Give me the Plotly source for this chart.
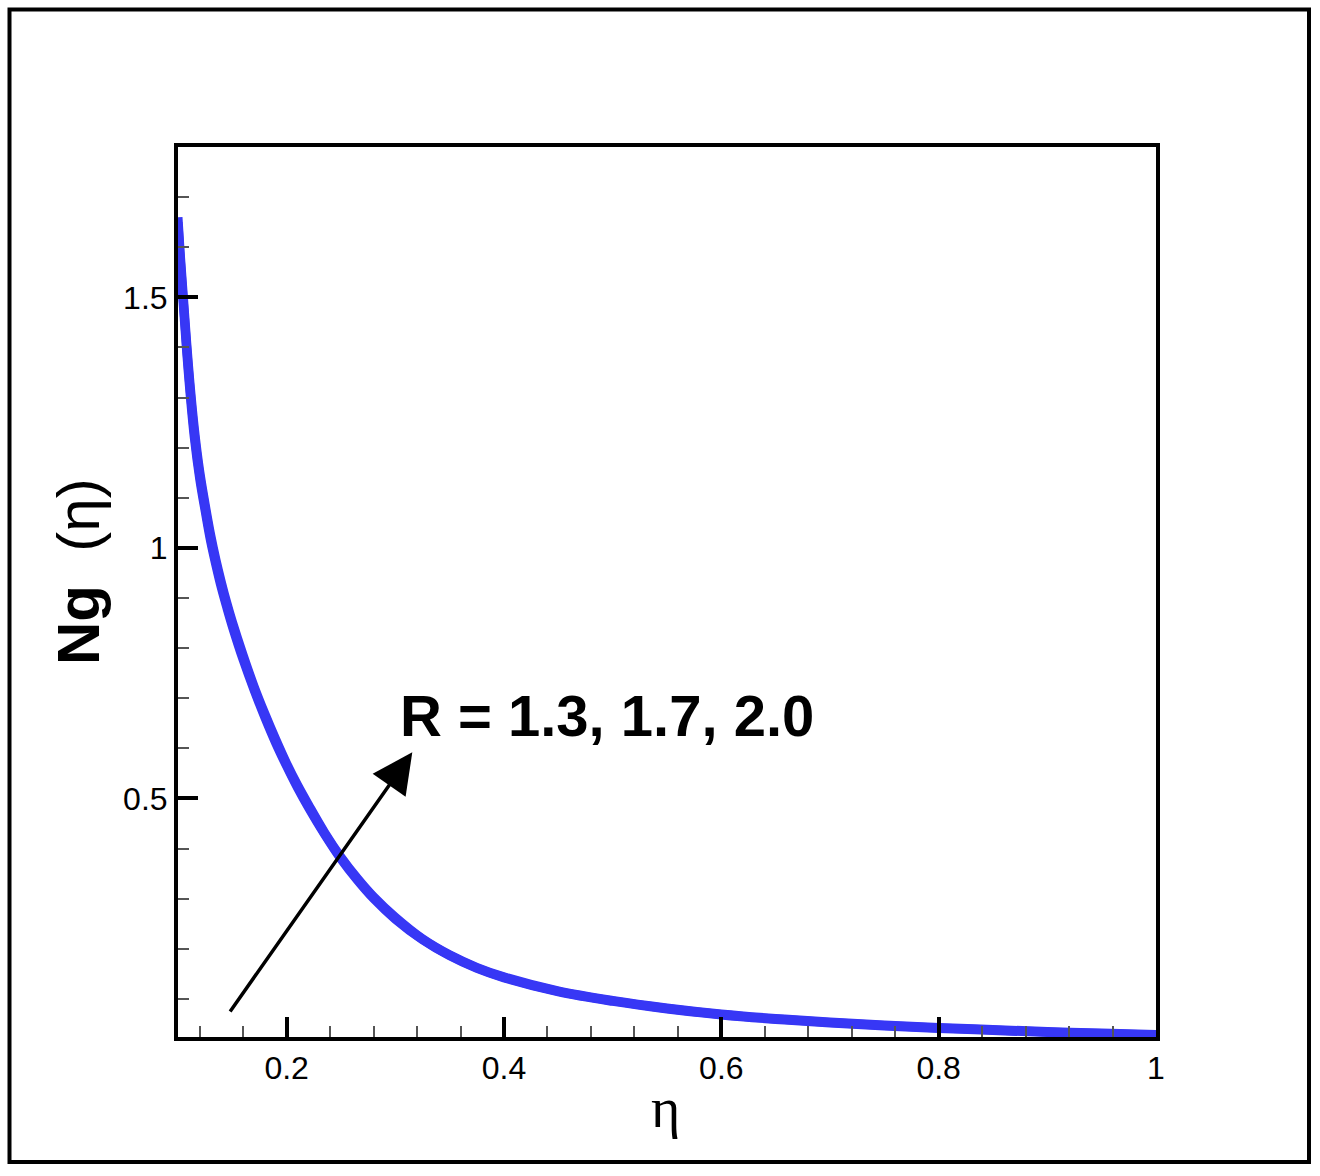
import plotly.graph_objects as go

# ---- data ----
eta = [0.1, 0.102, 0.105, 0.108, 0.111, 0.115, 0.12, 0.125, 0.13, 0.135, 0.14, 0.145,
       0.15, 0.16, 0.17, 0.18, 0.19, 0.2, 0.21, 0.22, 0.235, 0.25, 0.265, 0.28, 0.3,
       0.325, 0.35, 0.375, 0.4, 0.45, 0.5, 0.55, 0.6, 0.65, 0.7, 0.75, 0.8, 0.85,
       0.9, 0.95, 1.0]
ng_R17 = [1.65, 1.58, 1.49, 1.40, 1.32, 1.23, 1.145, 1.08, 1.02, 0.97, 0.925, 0.885,
          0.848, 0.781, 0.720, 0.665, 0.614, 0.567, 0.524, 0.485, 0.430, 0.381, 0.339, 0.302, 0.261,
          0.219, 0.187, 0.162, 0.143, 0.115, 0.096, 0.081, 0.069, 0.060, 0.053, 0.047, 0.042, 0.038,
          0.034, 0.031, 0.028]
ng_R13 = [1.64, 1.57, 1.48, 1.39, 1.31, 1.22, 1.137, 1.073, 1.013, 0.964, 0.919, 0.880,
          0.843, 0.776, 0.716, 0.661, 0.610, 0.564, 0.521, 0.482, 0.428, 0.379, 0.337, 0.300, 0.259,
          0.218, 0.186, 0.161, 0.142, 0.114, 0.095, 0.080, 0.068, 0.059, 0.052, 0.046, 0.041, 0.037,
          0.033, 0.030, 0.027]
ng_R20 = [1.66, 1.59, 1.50, 1.41, 1.33, 1.24, 1.153, 1.087, 1.027, 0.976, 0.931, 0.890,
          0.853, 0.786, 0.724, 0.669, 0.618, 0.570, 0.527, 0.488, 0.432, 0.383, 0.341, 0.304, 0.263,
          0.220, 0.188, 0.163, 0.144, 0.116, 0.097, 0.082, 0.070, 0.061, 0.054, 0.048, 0.043, 0.039,
          0.035, 0.032, 0.029]
series = [("R = 1.3", ng_R13), ("R = 1.7", ng_R17), ("R = 2.0", ng_R20)]

x_ticks = [0.2, 0.4, 0.6, 0.8, 1.0]
x_ticklabels = ["0.2", "0.4", "0.6", "0.8", "1"]
y_ticks = [0.5, 1.0, 1.5]
y_ticklabels = ["0.5", "1", "1.5"]

label_text = "<b>R = 1.3, 1.7, 2.0</b>"

W, H = 1320, 1176
L, R_, T, B = 178, 164, 147, 139
pw, ph = W - L - R_, H - T - B

fig = go.Figure()
for name, vals in series:
    fig.add_trace(go.Scatter(x=eta, y=vals, mode="lines", name=name,
                             line=dict(color="rgb(55,55,245)", width=9, shape="spline", smoothing=1.0),
                             showlegend=False))

axis_font = dict(family="Liberation Sans, Arial, sans-serif", size=32, color="black")

fig.update_layout(
    width=W, height=H,
    margin=dict(l=L, r=R_, t=T, b=B),
    paper_bgcolor="white", plot_bgcolor="white",
    xaxis=dict(range=[0.1, 1.0], tickvals=x_ticks, ticktext=x_ticklabels,
               ticks="inside", ticklen=20, tickwidth=4, tickcolor="black",
               showline=True, linewidth=4, linecolor="black", mirror=True,
               showgrid=False, zeroline=False, tickfont=axis_font,
               minor=dict(tick0=0.2, dtick=0.04, ticks="inside", ticklen=11,
                          tickwidth=1.5, tickcolor="#555", showgrid=False)),
    yaxis=dict(range=[0.024, 1.8], tickvals=y_ticks, ticktext=y_ticklabels,
               ticks="inside", ticklen=20, tickwidth=4, tickcolor="black",
               showline=True, linewidth=4, linecolor="black", mirror=True,
               showgrid=False, zeroline=False, tickfont=axis_font,
               minor=dict(tick0=0, dtick=0.1, ticks="inside", ticklen=11,
                          tickwidth=1.5, tickcolor="#555", showgrid=False)),
)

# arrow
fig.add_annotation(x=0.3156, y=0.592, ax=0.147, ay=0.072, xref="x", yref="y",
                   axref="x", ayref="y", text="", showarrow=True,
                   arrowhead=2, arrowsize=2.3, arrowwidth=3.5, arrowcolor="black")
# label
fig.add_annotation(x=0.4945, y=0.665, xref="x", yref="y", text=label_text,
                   showarrow=False, xanchor="center", yanchor="middle",
                   font=dict(family="Liberation Sans, Arial, sans-serif", size=58, color="black"))

# axis titles
fig.add_annotation(x=(665 - L) / pw, y=(H - B - 1108) / ph, xref="paper", yref="paper",
                   text="η", showarrow=False, xanchor="center", yanchor="middle",
                   font=dict(family="Liberation Serif, serif", size=56, color="black"))
fig.add_annotation(x=(78 - L) / pw, y=(H - B - 572) / ph, xref="paper", yref="paper",
                   text="<b>Ng</b>\u00a0\u00a0(η)", showarrow=False, textangle=-90,
                   xanchor="center", yanchor="middle",
                   font=dict(family="Liberation Sans, Arial, sans-serif", size=60, color="black"))

# outer frame
fig.add_shape(type="rect", xref="paper", yref="paper",
              x0=(9.5 - L) / pw, x1=(1309 - L) / pw,
              y0=(H - B - 1162) / ph, y1=(H - B - 9.5) / ph,
              line=dict(color="black", width=4), fillcolor="rgba(0,0,0,0)", layer="below")

fig.write_html("out.html", config={"displayModeBar": False},
               post_script="document.body.style.margin='0';document.body.style.overflow='hidden';")
